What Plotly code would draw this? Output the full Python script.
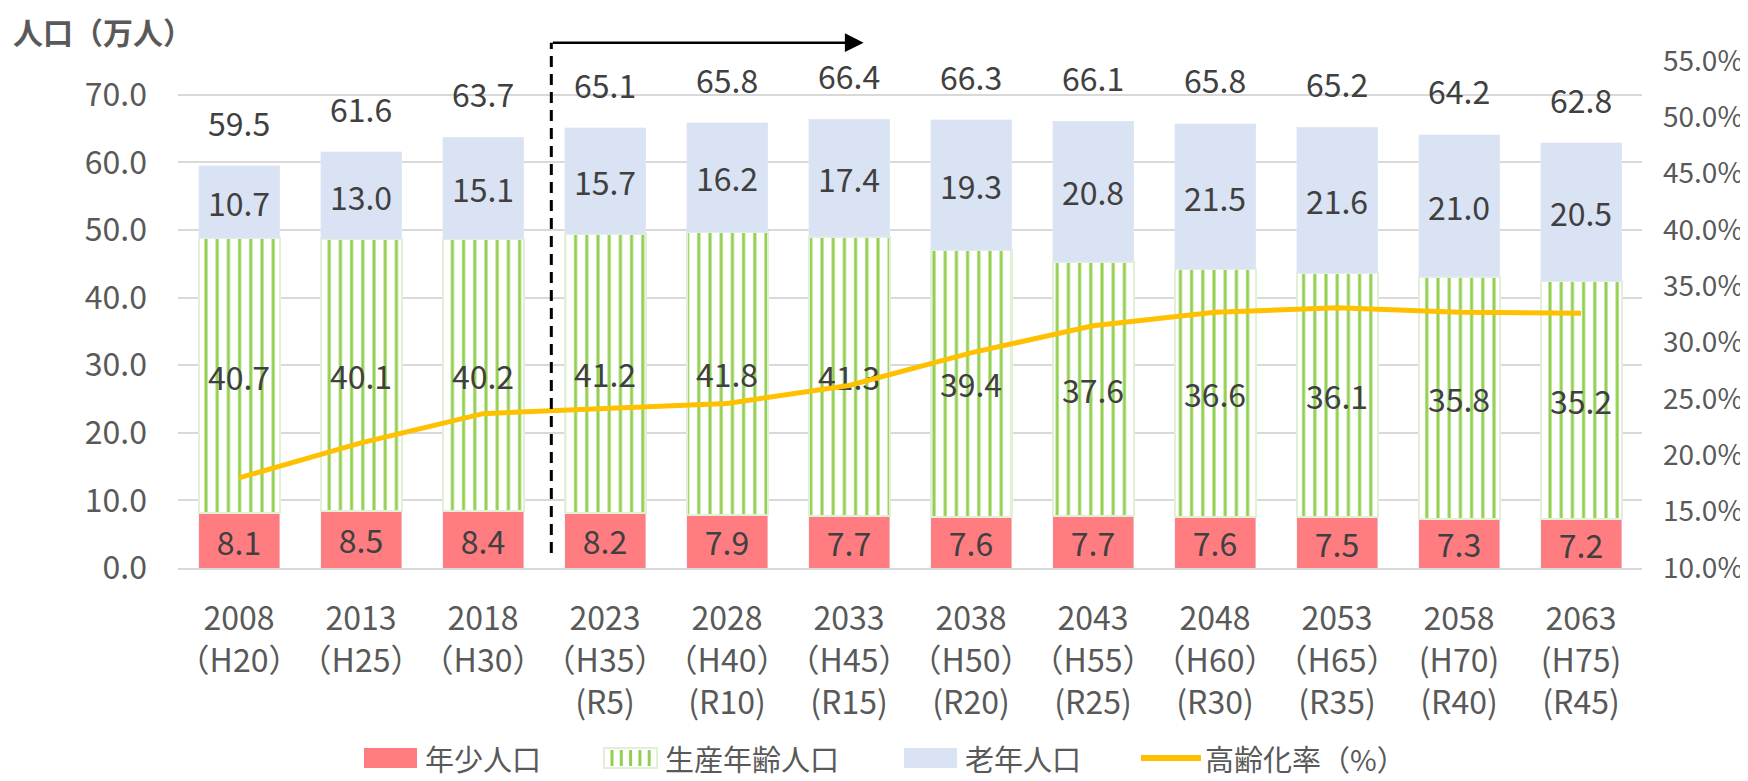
import plotly.graph_objects as go

# ---------------- data ----------------
years = ["2008", "2013", "2018", "2023", "2028", "2033", "2038", "2043", "2048", "2053", "2058", "2063"]
era_h = ["（H20）", "（H25）", "（H30）", "（H35）", "（H40）", "（H45）", "（H50）", "（H55）", "（H60）", "（H65）", "(H70)", "(H75)"]
era_r = ["", "", "", "(R5)", "(R10)", "(R15)", "(R20)", "(R25)", "(R30)", "(R35)", "(R40)", "(R45)"]

young = [8.1, 8.5, 8.4, 8.2, 7.9, 7.7, 7.6, 7.7, 7.6, 7.5, 7.3, 7.2]
working = [40.7, 40.1, 40.2, 41.2, 41.8, 41.3, 39.4, 37.6, 36.6, 36.1, 35.8, 35.2]
elderly = [10.7, 13.0, 15.1, 15.7, 16.2, 17.4, 19.3, 20.8, 21.5, 21.6, 21.0, 20.5]
totals = [59.5, 61.6, 63.7, 65.1, 65.8, 66.4, 66.3, 66.1, 65.8, 65.2, 64.2, 62.8]
aging_rate = [18.0, 21.1, 23.7, 24.1, 24.6, 26.2, 29.1, 31.5, 32.7, 33.1, 32.7, 32.6]

legend_names = ["年少人口", "生産年齢人口", "老年人口", "高齢化率（%）"]
y_title = "人口（万人）"

# ---------------- geometry (page pixels; the page body has an 8px margin) ----------------
OFF = 8
PAGE_W, PAGE_H = 1748, 781
W, H = PAGE_W - OFF, PAGE_H - OFF
PLOT_L, PLOT_R, PLOT_T, PLOT_B = 178, 1642, 61, 568
ML, MR, MT, MB = PLOT_L - OFF, PAGE_W - PLOT_R, PLOT_T - OFF, PAGE_H - PLOT_B
PW, PH = PLOT_R - PLOT_L, PLOT_B - PLOT_T

FONT = "Noto Sans CJK JP, sans-serif"
C_RED = "#FF7C80"
C_GREEN = "#92D050"
C_GREEN_EDGE = "#E2F0D9"
C_BLUE = "#DAE3F3"
C_LINE = "#FFC000"
C_TEXT = "#404040"
C_AXIS = "#595959"
C_GRID = "#D9D9D9"
FS = 32


def px_x(p):
    return (p - PLOT_L) / PW


def px_y(p):
    return (PLOT_B - p) / PH


xs = list(range(len(years)))
ticktext = [
    f"{y}<br>{h}" + (f"<br>{r}" if r else "") for y, h, r in zip(years, era_h, era_r)
]

fig = go.Figure()

bar_text_font = dict(family=FONT, size=FS, color=C_TEXT)

fig.add_trace(go.Bar(
    x=xs, y=young, name=legend_names[0], marker=dict(color=C_RED),
    texttemplate="%{y:.1f}", textposition="inside", insidetextanchor="middle",
    textfont=bar_text_font, constraintext="none", textangle=0, showlegend=False,
))
fig.add_trace(go.Bar(
    x=xs, y=working, name=legend_names[1],
    marker=dict(
        color="white",
        line=dict(color=C_GREEN_EDGE, width=2),
        pattern=dict(shape="|", fgcolor=C_GREEN, bgcolor="white", size=11.2,
                     solidity=0.27, fillmode="replace"),
    ),
    texttemplate="%{y:.1f}", textposition="inside", insidetextanchor="middle",
    textfont=bar_text_font, constraintext="none", textangle=0, showlegend=False,
))
fig.add_trace(go.Bar(
    x=xs, y=elderly, name=legend_names[2], marker=dict(color=C_BLUE),
    texttemplate="%{y:.1f}", textposition="inside", insidetextanchor="middle",
    textfont=bar_text_font, constraintext="none", textangle=0, showlegend=False,
))
fig.add_trace(go.Scatter(
    x=xs, y=aging_rate, name=legend_names[3], yaxis="y2", mode="lines",
    line=dict(color=C_LINE, width=5), showlegend=False,
))

annotations = []
# totals above bars
for x, t in zip(xs, totals):
    annotations.append(dict(
        x=x, y=t, xref="x", yref="y", text=f"{t:.1f}", showarrow=False,
        yshift=44, font=dict(family=FONT, size=FS, color=C_TEXT),
    ))

# y axis title
annotations.append(dict(
    x=px_x(11), y=px_y(31), xref="paper", yref="paper", xanchor="left", yanchor="middle",
    text=f"<b>{y_title}</b>", showarrow=False,
    font=dict(family=FONT, size=30, color=C_AXIS),
))

# forecast arrow
arrow_start, arrow_end = 2.56, 5.12
annotations.append(dict(
    x=arrow_end, y=px_y(42.7), xref="x", yref="paper",
    ax=arrow_start, ay=0, axref="x", ayref="pixel",
    text="", showarrow=True, arrowhead=2, arrowsize=1.5, arrowwidth=2.5,
    arrowcolor="black", standoff=0,
))

shapes = [
    dict(type="line", xref="x", yref="paper", x0=arrow_start, x1=arrow_start,
         y0=px_y(553), y1=px_y(42.7), line=dict(color="black", width=3, dash="11px,7px"),
         layer="above"),
]

# custom legend
leg_y = 758
sw_h = 20
legend_items = [
    ("rect", 364, 417, 424, C_RED),
    ("pattern", 604, 657, 664, None),
    ("rect", 904, 957, 964, C_BLUE),
    ("line", 1141, 1201, 1204, C_LINE),
]
for (kind, x0, x1, tx, col), name in zip(legend_items, legend_names):
    if kind == "rect":
        shapes.append(dict(type="rect", xref="paper", yref="paper",
                           x0=px_x(x0), x1=px_x(x1), y0=px_y(leg_y + sw_h / 2), y1=px_y(leg_y - sw_h / 2),
                           fillcolor=col, line=dict(width=0)))
    elif kind == "pattern":
        shapes.append(dict(type="rect", xref="paper", yref="paper",
                           x0=px_x(x0), x1=px_x(x1), y0=px_y(leg_y + sw_h / 2), y1=px_y(leg_y - sw_h / 2),
                           fillcolor="white", line=dict(color=C_GREEN_EDGE, width=2)))
        for k in range(5):
            sx = x0 + 8 + k * 9.3
            shapes.append(dict(type="line", xref="paper", yref="paper",
                               x0=px_x(sx), x1=px_x(sx), y0=px_y(leg_y + sw_h / 2 - 2), y1=px_y(leg_y - sw_h / 2 + 2),
                               line=dict(color=C_GREEN, width=3)))
    else:
        shapes.append(dict(type="line", xref="paper", yref="paper",
                           x0=px_x(x0), x1=px_x(x1), y0=px_y(leg_y), y1=px_y(leg_y),
                           line=dict(color=col, width=6)))
    annotations.append(dict(
        x=px_x(tx), y=px_y(leg_y), xref="paper", yref="paper", xanchor="left", yanchor="middle",
        text=name, showarrow=False, borderpad=0, font=dict(family=FONT, size=29, color=C_AXIS),
    ))

fig.update_layout(
    width=W, height=H,
    margin=dict(l=ML, r=MR, t=MT, b=MB, pad=0, autoexpand=False),
    paper_bgcolor="white", plot_bgcolor="white",
    barmode="stack", bargap=0.336,
    showlegend=False,
    xaxis=dict(
        range=[-0.5, len(years) - 0.5], tickmode="array", tickvals=xs, ticktext=ticktext,
        showgrid=False, zeroline=False, showline=True, linecolor=C_GRID, linewidth=2,
        ticks="", ticklabelstandoff=22, tickangle=0, automargin=False,
        tickfont=dict(family=FONT, size=FS, color=C_AXIS),
    ),
    yaxis=dict(
        range=[0, 75], dtick=10, tick0=0, tickformat=".1f",
        showgrid=True, gridcolor=C_GRID, gridwidth=1.5, zeroline=False, showline=False,
        ticks="", ticklabelstandoff=30, automargin=False,
        tickfont=dict(family=FONT, size=FS, color=C_AXIS),
    ),
    yaxis2=dict(
        overlaying="y", side="right", range=[10, 55], dtick=5, tick0=10,
        tickformat=".1f", ticksuffix="%", showgrid=False, zeroline=False, showline=False,
        ticks="", ticklabelstandoff=20, automargin=False,
        tickfont=dict(family=FONT, size=28, color=C_AXIS),
    ),
    annotations=annotations,
    shapes=shapes,
)

fig.write_html("out.html")
